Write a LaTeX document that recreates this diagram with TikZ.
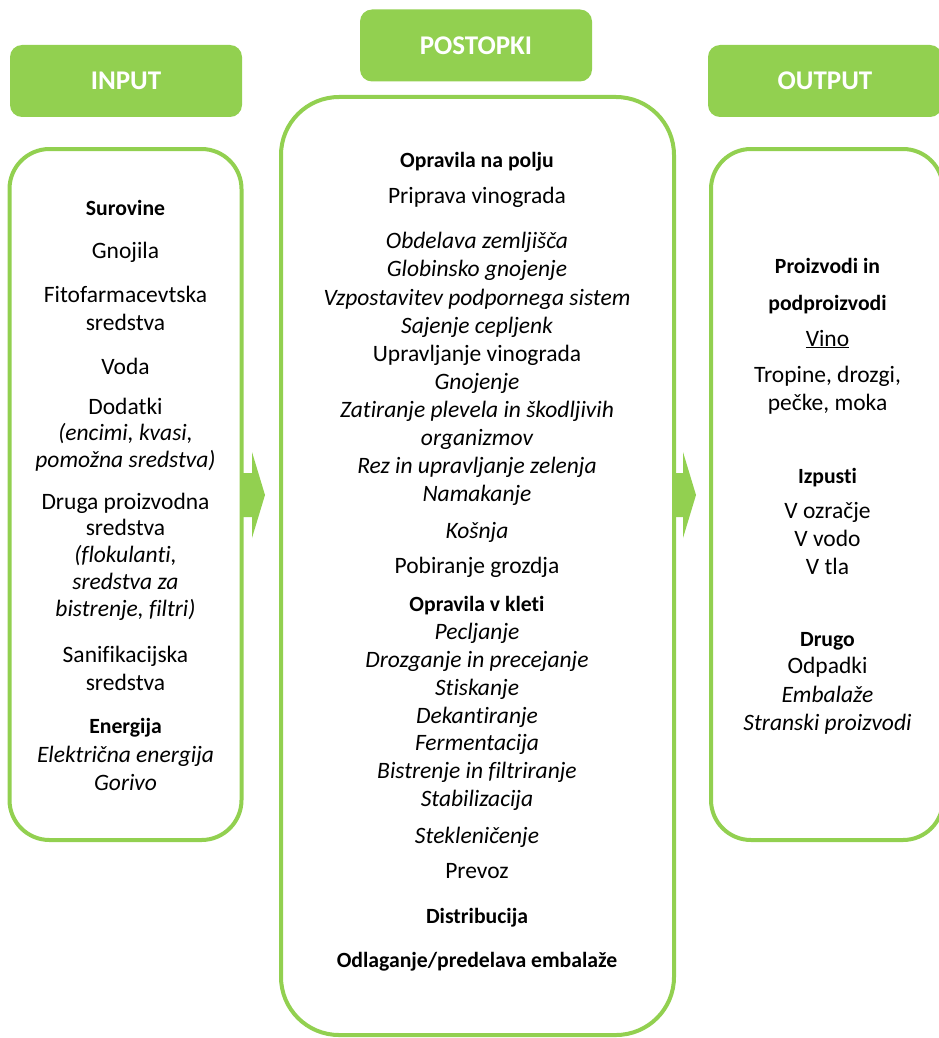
\documentclass[tikz,border=0pt]{standalone}
\usepackage{fontspec}
\setmainfont{Carlito}[Ligatures=NoCommon]
\usepackage{tikz}
\usetikzlibrary{positioning}
\definecolor{leaf}{HTML}{92D050}
\tikzset{
	puscica/.pic={\fill[leaf] (0pt,-22pt) -- ++(11pt,0pt) -- ++(0pt,-21pt) -- ++(13pt,43pt) -- ++(-13pt,43pt) -- ++(0pt,-21pt) -- ++(-11pt,0pt) -- cycle;}
}

\begin{document}
\begin{tikzpicture}[head/.style={fill=leaf, rounded corners=12pt, minimum width=232pt, minimum height=72pt, text=white, font=\bfseries\fontsize{27}{32}\selectfont}, frame/.style={draw=leaf, line width=4pt, rounded corners=40pt, minimum width=232pt, minimum height=691pt}, txt/.style={anchor=base, inner sep=0pt, font=\fontsize{23.5}{28.5}\selectfont}, it/.style={txt, font=\fontsize{23.5}{28.5}\selectfont\itshape}, bf/.style={txt, font=\fontsize{21.7}{28.5}\selectfont\bfseries}]
		\useasboundingbox (0pt, 0pt) rectangle (939pt, -1038pt);
		\draw (126.0pt, -81.0pt)node[head](inhead){INPUT};
		\draw (476.0pt, -45.5pt)node[head](phead){POSTOPKI};
		\draw (825.0pt, -81.0pt)node[head, minimum width=234pt](outhead){OUTPUT};
		\pic at (241.0pt, -495.0pt) {puscica};
		\pic at (672.0pt, -495.0pt) {puscica};
		\draw (125.5pt, -494.5pt)node[frame](inbox){};
		\draw (477.5pt, -566.0pt)node[frame, rounded corners=58pt, minimum width=393pt, minimum height=938pt](pbox){};
		\draw (827.0pt, -494.5pt)node[frame](outbox){};
		% input
		\draw (125.5pt, -215.0pt)node[bf](i1){Surovine};
		\draw (125.5pt, -258.0pt)node[txt](i2){Gnojila};
		\draw (125.5pt, -302.0pt)node[txt](i3){Fitofarmacevtska};
		\draw (125.5pt, -330.0pt)node[txt](i4){sredstva};
		\draw (125.5pt, -374.0pt)node[txt](i5){Voda};
		\draw (125.5pt, -414.0pt)node[txt](i6){Dodatki};
		\draw (125.5pt, -440.0pt)node[it](i7){(encimi, kvasi,};
		\draw (125.5pt, -467.0pt)node[it](i8){pomožna sredstva)};
		\draw (125.5pt, -509.0pt)node[txt](i9){Druga proizvodna};
		\draw (125.5pt, -535.0pt)node[txt](i10){sredstva};
		\draw (125.5pt, -562.0pt)node[it](i11){(flokulanti,};
		\draw (125.5pt, -589.0pt)node[it](i12){sredstva za};
		\draw (125.5pt, -616.0pt)node[it](i13){bistrenje, filtri)};
		\draw (125.5pt, -662.0pt)node[txt](i14){Sanifikacijska};
		\draw (125.5pt, -690.0pt)node[txt](i15){sredstva};
		\draw (125.5pt, -733.0pt)node[bf](i16){Energija};
		\draw (125.5pt, -762.0pt)node[it](i17){Električna energija};
		\draw (125.5pt, -790.0pt)node[it](i18){Gorivo};
		% postopki
		\draw (477.0pt, -167.0pt)node[bf](p1){Opravila na polju};
		\draw (477.0pt, -203.0pt)node[txt](p2){Priprava vinograda};
		\draw (477.0pt, -248.0pt)node[it](p3){Obdelava zemljišča};
		\draw (477.0pt, -276.0pt)node[it](p4){Globinsko gnojenje};
		\draw (477.0pt, -305.0pt)node[it](p5){Vzpostavitev podpornega sistem};
		\draw (477.0pt, -333.0pt)node[it](p6){Sajenje cepljenk};
		\draw (477.0pt, -361.0pt)node[txt](p7){Upravljanje vinograda};
		\draw (477.0pt, -389.0pt)node[it](p8){Gnojenje};
		\draw (477.0pt, -417.0pt)node[it](p9){Zatiranje plevela in škodljivih};
		\draw (477.0pt, -445.0pt)node[it](p10){organizmov};
		\draw (477.0pt, -473.0pt)node[it](p11){Rez in upravljanje zelenja};
		\draw (477.0pt, -501.0pt)node[it](p12){Namakanje};
		\draw (477.0pt, -538.0pt)node[it](p13){Košnja};
		\draw (477.0pt, -573.0pt)node[txt](p14){Pobiranje grozdja};
		\draw (477.0pt, -611.0pt)node[bf](p15){Opravila v kleti};
		\draw (477.0pt, -639.0pt)node[it](p16){Pecljanje};
		\draw (477.0pt, -667.0pt)node[it](p17){Drozganje in precejanje};
		\draw (477.0pt, -695.0pt)node[it](p18){Stiskanje};
		\draw (477.0pt, -723.0pt)node[it](p19){Dekantiranje};
		\draw (477.0pt, -750.0pt)node[it](p20){Fermentacija};
		\draw (477.0pt, -778.0pt)node[it](p21){Bistrenje in filtriranje};
		\draw (477.0pt, -806.0pt)node[it](p22){Stabilizacija};
		\draw (477.0pt, -843.0pt)node[it](p23){Stekleničenje};
		\draw (477.0pt, -878.0pt)node[txt](p24){Prevoz};
		\draw (477.0pt, -923.0pt)node[bf](p25){Distribucija};
		\draw (477.0pt, -967.0pt)node[bf](p26){Odlaganje/predelava embalaže};
		% output
		\draw (827.5pt, -273.0pt)node[bf](o1){Proizvodi in};
		\draw (827.5pt, -310.0pt)node[bf](o2){podproizvodi};
		\draw (827.5pt, -346.0pt)node[txt](o3){\underline{Vino}};
		\draw (827.5pt, -382.0pt)node[txt](o4){Tropine, drozgi,};
		\draw (827.5pt, -410.0pt)node[txt](o5){pečke, moka};
		\draw (827.5pt, -483.0pt)node[bf](o6){Izpusti};
		\draw (827.5pt, -518.0pt)node[txt](o7){V ozračje};
		\draw (827.5pt, -546.0pt)node[txt](o8){V vodo};
		\draw (827.5pt, -574.0pt)node[txt](o9){V tla};
		\draw (827.5pt, -646.0pt)node[bf](o10){Drugo};
		\draw (827.5pt, -673.0pt)node[txt](o11){Odpadki};
		\draw (827.5pt, -702.0pt)node[it](o12){Embalaže};
		\draw (827.5pt, -730.0pt)node[it](o13){Stranski proizvodi};
		\end{tikzpicture}
\end{document}
